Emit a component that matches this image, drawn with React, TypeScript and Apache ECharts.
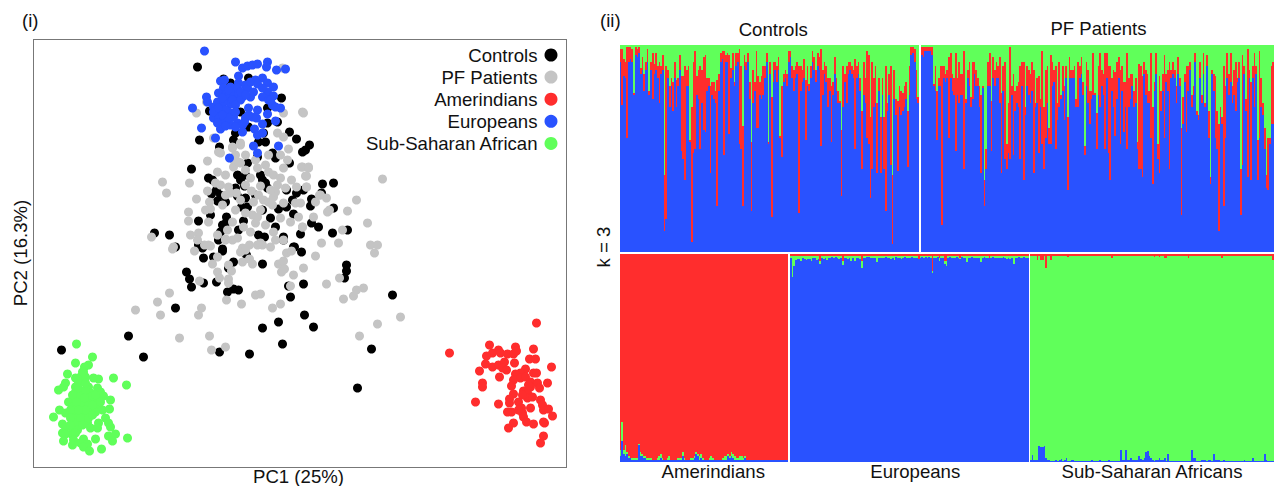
import React, { useEffect, useRef } from "react";
import * as echarts from "echarts";

const BLUE = "#2952FF", RED = "#FF2D2D", GREEN = "#60FF5A", BLACK = "#000000", GRAY = "#C4C4C4";
const FONT = "'Liberation Sans', Arial, sans-serif";
const FS = 18.6;

const controlsPC: number[][] = [[197,67],[281,98],[209,111],[199,140],[289,132],[296,139],[219,147],[191,169],[272,153],[289,163],[235,133],[248,78],[223,79],[230,83],[267,108],[240,112],[277,122],[267,123],[248,127],[263,133],[233,140],[257,157],[247,163],[309,145],[305,150],[302,152],[265,142],[258,142],[275,158],[322,184],[333,183],[208,178],[212,180],[237,175],[240,180],[262,180],[265,183],[235,188],[211,194],[296,193],[303,190],[267,188],[220,195],[217,201],[225,202],[245,198],[247,207],[241,207],[311,199],[310,206],[321,193],[333,208],[210,215],[198,221],[226,217],[262,210],[278,209],[286,207],[293,214],[311,223],[318,227],[332,233],[347,230],[154,233],[169,235],[222,225],[220,232],[243,221],[238,230],[258,235],[264,237],[270,218],[275,227],[283,237],[175,247],[198,245],[202,248],[222,249],[293,247],[203,258],[218,240],[222,251],[213,257],[233,262],[228,268],[246,255],[262,264],[283,240],[294,247],[301,252],[346,265],[346,271],[344,278],[186,272],[189,279],[191,287],[203,283],[216,282],[227,292],[233,289],[238,290],[303,284],[290,297],[288,286],[392,295],[175,308],[278,322],[304,315],[262,328],[313,327],[282,344],[371,349],[219,352],[249,354],[143,357],[128,336],[357,388],[61,350],[216,190],[244,186],[237,196],[245,175],[260,175],[286,190],[255,195],[292,200],[226,222],[300,234]];
const patientsPC: number[][] = [[196,113],[206,102],[282,68],[283,113],[302,112],[277,133],[213,138],[283,137],[288,149],[220,153],[232,148],[240,145],[207,161],[162,182],[166,193],[189,183],[196,199],[303,113],[382,179],[356,200],[347,211],[367,223],[327,212],[320,195],[326,198],[305,176],[308,168],[302,167],[306,187],[313,217],[342,230],[315,202],[302,227],[188,212],[188,221],[207,191],[209,202],[205,210],[210,209],[208,222],[217,172],[225,175],[215,183],[220,185],[228,187],[230,193],[236,193],[233,167],[240,163],[245,170],[233,160],[238,162],[250,178],[251,191],[260,186],[253,202],[268,172],[265,165],[273,175],[277,185],[285,188],[263,200],[268,202],[273,197],[275,192],[272,205],[260,210],[257,217],[252,215],[283,203],[295,203],[300,203],[283,168],[287,160],[301,167],[308,167],[306,176],[291,180],[296,187],[306,187],[319,195],[329,210],[298,217],[290,222],[302,227],[321,243],[338,243],[370,245],[377,245],[151,237],[190,235],[198,233],[197,240],[173,247],[208,245],[217,235],[225,239],[227,230],[232,222],[237,238],[243,227],[255,223],[273,232],[283,240],[270,247],[249,245],[242,248],[257,245],[218,152],[240,143],[232,147],[257,168],[172,249],[194,251],[204,245],[210,246],[225,240],[240,252],[245,250],[260,243],[217,257],[212,264],[228,265],[231,271],[217,272],[219,278],[199,281],[228,279],[228,283],[242,262],[249,259],[252,264],[278,264],[283,261],[286,253],[291,251],[315,256],[303,268],[284,269],[281,272],[293,275],[290,286],[326,284],[339,278],[363,288],[356,290],[353,296],[343,299],[374,253],[255,295],[260,294],[226,300],[241,304],[280,304],[272,308],[169,293],[157,302],[135,310],[160,315],[201,308],[198,315],[179,338],[209,336],[211,350],[225,347],[359,336],[377,324],[400,317],[245,185],[225,195],[240,200],[280,178],[270,190],[258,195],[245,213],[235,210],[265,225],[280,218],[235,155],[255,160],[245,155],[268,155],[280,155],[222,205],[232,240],[250,232],[262,245],[275,240]];
const amerindiansPC: number[][] = [[536,323],[449,353],[489,345],[515,347],[533,349],[498,350],[492,353],[486,356],[500,353],[507,354],[513,354],[516,351],[529,359],[535,359],[485,364],[492,367],[498,365],[504,362],[502,368],[506,370],[514,363],[551,367],[479,371],[499,377],[525,369],[520,373],[515,374],[513,380],[520,378],[533,373],[536,373],[530,382],[482,383],[482,387],[511,386],[547,383],[537,383],[539,388],[530,387],[523,391],[527,393],[513,394],[527,398],[532,397],[475,402],[498,404],[509,399],[509,403],[518,402],[540,400],[542,405],[521,408],[530,408],[543,410],[548,409],[552,416],[511,412],[507,412],[522,413],[523,417],[526,422],[533,424],[543,422],[544,423],[513,423],[508,428],[543,436],[540,443],[525,377],[528,385],[522,395],[518,410]];
const europeansPC: number[][] = [[204,51],[235,62],[242,68],[247,66],[252,65],[257,64],[267,62],[266,67],[276,70],[285,69],[238,76],[220,81],[224,80],[255,80],[262,78],[267,83],[273,87],[245,85],[247,88],[238,83],[230,87],[223,88],[218,93],[227,97],[235,95],[242,97],[250,97],[253,92],[267,92],[262,97],[273,96],[268,100],[206,97],[207,102],[213,107],[217,102],[222,107],[230,104],[220,113],[228,112],[192,108],[213,118],[218,118],[222,122],[220,129],[201,128],[215,138],[230,125],[237,123],[242,125],[242,132],[248,108],[257,110],[245,118],[252,117],[267,114],[272,105],[280,108],[275,107],[275,121],[262,124],[254,129],[257,135],[262,133],[253,146],[257,153],[278,146],[229,158],[217,123],[233,117],[240,100],[237,88],[250,82],[230,93],[213,112],[223,102],[225,95],[232,100],[222,98],[228,90],[235,105],[240,92],[245,95],[225,110],[218,108],[228,118],[235,112],[222,115],[256,118],[248,115],[244,122],[235,127],[225,126],[257,84],[262,88],[270,100]];
const africansPC: number[][] = [[76,344],[92,357],[75,363],[88,365],[84,367],[83,372],[67,374],[113,378],[126,385],[98,379],[93,378],[80,377],[85,377],[78,382],[65,383],[63,387],[58,390],[75,387],[88,387],[97,388],[100,392],[75,392],[83,393],[90,393],[103,396],[110,400],[68,402],[75,400],[82,400],[90,400],[98,400],[77,407],[83,407],[90,407],[97,405],[102,410],[109,409],[59,410],[65,413],[73,412],[80,413],[87,412],[95,412],[53,417],[77,418],[83,417],[105,418],[108,423],[62,424],[65,427],[75,423],[87,423],[90,428],[98,423],[97,428],[110,427],[72,430],[77,430],[62,433],[65,434],[72,435],[75,433],[108,436],[115,434],[127,438],[63,441],[73,440],[83,439],[95,439],[112,441],[72,445],[80,443],[87,444],[83,447],[101,449],[89,451],[80,403],[88,403],[72,407],[80,395],[72,395],[78,388],[85,390],[92,396],[70,410],[76,402],[84,398],[92,405],[80,418],[70,418],[88,418],[95,395],[100,402],[85,410],[78,410],[92,415],[82,425],[70,425],[85,383],[75,378],[82,372]];

const ctrlBlue = [92,71,85,84,55,92,93,92,76,95,94,96,86,88,78,88,92,76,88,74,86,88,84,72,86,88,10,16,84,70,80,68,84,70,80,88,49,45,35,80,80,53,5,48,50,76,74,50,72,59,58,78,80,38,76,74,72,22,78,92,93,47,92,92,57,84,88,80,90,92,52,50,22,90,88,92,74,20,72,78,60,60,76,74,76,84,92,52,86,17,82,88,82,88,55,46,82,84,80,92,94,84,78,84,86,19,78,82,84,54,80,78,84,92,88,82,90,88,51,76,86,82,70,78,53,76,86,78,72,72,27,70,82,72,86,88,86,84,50,84,86,78,40,76,72,55,52,26,40,70,72,38,78,38,76,40,20,68,76,42,4,74,66,39,70,66,68,70,74,41,76,95,96,92,74,72];
const ctrlRed = [98,98,93,92,99,99,99,98,77,99,98,99,89,94,86,92,98,78,92,96,91,96,90,92,90,95,37,90,88,80,84,82,92,83,84,95,85,85,90,88,90,54,70,92,97,85,88,90,88,94,95,84,84,80,82,82,78,83,86,96,97,97,95,96,95,89,96,82,96,96,98,90,61,95,92,96,82,53,88,82,97,85,82,85,90,90,96,53,92,75,92,92,90,94,56,80,86,88,86,97,97,90,88,90,92,90,90,88,93,83,90,81,90,97,94,88,96,94,98,88,92,90,84,84,80,82,94,84,78,73,59,90,86,90,92,92,90,88,93,90,92,84,68,92,84,97,95,65,92,84,90,72,84,65,84,65,90,72,86,90,37,88,74,73,80,78,77,80,82,68,90,99,99,98,88,75];
const pfBlue = [95,94,97,97,97,97,95,80,78,54,80,80,13,84,82,84,55,84,78,76,49,76,72,76,76,40,72,84,80,70,74,86,80,80,70,38,79,22,40,80,80,49,84,80,84,84,72,38,78,45,40,48,45,76,47,68,72,70,45,80,35,66,80,76,72,78,38,70,72,48,70,52,40,55,72,52,52,80,82,50,64,70,74,78,64,84,30,84,84,84,84,70,70,84,86,76,47,80,72,62,74,76,76,50,76,70,80,76,50,84,48,35,78,70,56,74,84,52,78,58,70,50,70,74,80,70,72,50,40,40,36,86,76,72,72,55,33,78,86,45,38,68,78,55,82,78,40,84,86,84,72,86,80,18,62,82,58,78,88,70,76,92,66,64,84,72,86,70,90,55,33,86,78,55,50,10,65,62,22,55,84,76,82,72,76,68,82,84,18,42,86,68,36,84,35,84,70,86,35,55,70,66,50,31,30,52,62,62];
const pfRed = [99,99,99,99,99,99,99,81,90,78,84,90,90,90,86,88,94,96,86,84,96,84,92,86,86,97,74,88,92,75,92,92,88,84,80,76,80,35,50,92,96,73,94,88,92,90,94,77,90,92,52,72,99,80,86,78,80,82,90,92,92,70,90,88,86,92,88,72,84,85,74,97,70,88,90,60,95,92,88,90,72,92,76,90,80,90,65,94,88,88,90,74,92,90,94,82,51,92,88,78,78,96,77,67,90,96,88,86,96,96,90,90,84,88,87,92,94,88,90,82,82,96,84,86,86,78,84,53,91,90,85,92,88,86,78,96,70,82,96,52,85,78,86,95,86,88,92,88,92,88,80,94,84,60,75,86,90,90,92,76,80,96,68,66,92,76,96,72,95,68,36,88,86,85,68,62,70,65,90,80,96,86,96,80,88,92,84,92,40,95,90,74,98,88,82,90,96,90,54,97,84,72,60,37,55,55,90,92];

const amerBlue = [3,10,4,3,4,2,2,1,1,1,1,8,3,3,2,2,1,1,1,1,1,1,1,1,2,1,1,1,1,1,1,1,1,1,1,1,1,3,1,1,1,1,1,1,2,4,3,1,2,1,1,1,1,1,1,1,1,1,1,1,1,1,1,1,3,2,3,2,1,1,1,1,1,1,2,1,1,1,1,1,1,1,1,1,1,1,1,1,1,1,1,1,1,1,1,1,1,1,1,1];
const amerGreen = [6,19,6,8,5,3,2,2,2,2,2,8.5,5,4,3,3,2,2,2,1,1,1,2,3,4,2,1,1,2,3,1,1,1,1,2,2,2,5,2,1,1,1,2,2,3,5,4,3,4,2,1,1,1,2,3,2,1,1,1,1,1,2,3,3,4,3,5,4,3,2,2,3,3,2,3,1,1,1,1,1,1,1,1,1,1,1,1,1,1,1,1,1,1,1,1,1,1,1,1,1];
const euroNotBlue = [2,11,6,3,2.5,2.5,3.5,2,2.5,3,2.5,2.5,3.5,2,2,3,2.5,5,2,2.5,2,3,2,2,1.5,2,1.5,2,2.5,2,5.5,2,2,2.5,2,3.5,2,3.5,2,2,2.5,6.5,2,2,1.5,1.5,2,2,2,2,4,2,2,2,2,1.5,2,2,2.5,2,3,1.5,2,2,2.5,2,1.5,2,2,2,1.5,2,2,2,2.5,2,1.5,2,1.5,2,1.5,2,9,2,2,1.5,3.5,2,2,5,6,2,1.5,2,2,2,1.5,2,2.5,1.5,2,2,4,2,2,1.5,2,2,2,2,4,2,1.5,2,2,2,2,1.5,2,2,2,2,2,1.5,2,2.5,2,2.5,2,5,2,2,1.5,2,2,1.5,2,2,2,1.5];
const euroRed = [1,1,1,1,1,1,1,1,1,1,1,1,1,1,1,1,1,3.5,1,1,1,1,1,1,1,1,1,1,1,1,3.5,1,1,1,1,1,1,1,1,1,1,3.5,1,1,1,1,1,1,1,1,1,1,1,1,1,1,1,1,1,1,1,1,1,1,1,1,1,1,1,1,1,1,1,1,2.5,1,1,1,1,1,1,1,8,1,1,1,2,1,1,3.5,3.5,1,1,1,1,1,1,1,2,1,1,1,1,1,1,1,1,1,1,1,1,1,1,1,1,2,1,1,1,1,1,1,1,1,1,1,1,1,1,1,1,1,1,1,1,1,1,1];
const afrBlue = [1,3.5,1,1,1,7.5,7,7,7.5,2,1,1,0.5,0.5,0.5,1,0.5,1,1.5,0.5,1,2,0.5,0.5,1,1,0.5,0.5,0.5,0.5,0.5,0.5,0.5,0.5,0.5,0.5,1,0.5,0.5,0.5,0.5,1,0.5,0.5,0.5,0.5,1,0.5,0.5,0.5,0.5,0.5,0.5,6,1,1,6,1,1,2,1,1,1,1,3,1.5,1,2,5,5.5,3,2,1,0.5,1,1,2,1,1,2,0.5,4,0.5,0.5,0.5,0.5,0.5,0.5,0.5,0.5,0.5,0.5,0.5,0.5,0.5,6,2,2,0.5,0.5,0.5,1,1,1,0.5,1,1,0.5,4,1,1,1,0.5,0.5,1,0.5,0.5,0.5,0.5,0.5,0.5,0.5,0.5,0.5,0.5,0.5,1,0.5,0.5,0.5,0.5,2,0.5,0.5,0.5,0.5,0.5,0.5,4,1,0.5,0.5,0.5,0.5];
const afrRed = [1,1,1,1,3,1,3,3,1,6.5,1,1,3,1,1,1,1,1,1,1,1,1,1.5,1,1,1,1,1,1,1,1,1,1,1,1,1,1,1,1,1,1,1,1,1,1,1,1,1,2,1,1,1,1,1,1,1,1,1,1,1,1,1,1,1,1,1,1,1,1,1,1,1,1,1.5,1,1,1.5,1,1,2,2,1,1,1,1,1,1,1,1,1,1,1,1,2,1,1,1,1,1,1,1,1,1,1,1,1,1,1,1,1,1,1,1,2,1,1,1,1,1,1,1,1,1,1,1,1,1,1,1,1,1,1,1,1,1,1,1,1,1,1,1,1,1,3];

const legendNames = ["Controls", "PF Patients", "Amerindians", "Europeans", "Sub-Saharan African"];
const pcSets = [controlsPC, patientsPC, amerindiansPC, europeansPC, africansPC];
const legendColors = [BLACK, GRAY, RED, BLUE, GREEN];

function panel(i: number, name: string, nameGap: number, shift: number, pos: "top" | "bottom", n: number, stacks: { name: string; color: string; data: number[] }[]) {
  return {
    xAxis: {
      type: "category", gridIndex: i, position: pos, data: Array.from({ length: n }, (_, k) => k),
      name, nameLocation: "middle", nameGap,
      nameTextStyle: { fontFamily: FONT, fontSize: FS, color: "#111", padding: [0, 0, 0, shift] },
      axisLine: { show: false }, axisTick: { show: false }, axisLabel: { show: false }, splitLine: { show: false },
    },
    yAxis: { type: "value", gridIndex: i, min: 0, max: 100, show: false },
    series: stacks.map((s) => ({
      type: "bar", name: s.name, xAxisIndex: i, yAxisIndex: i, stack: "p" + i, data: s.data,
      barWidth: "100%", barCategoryGap: 0, silent: true,
      itemStyle: { color: s.color },
    })),
  };
}
const diff = (a: number[], b: number[]) => a.map((v, i) => +(v - b[i]).toFixed(2));

export default function App() {
  const ref = useRef<HTMLDivElement>(null);
  useEffect(() => {
    const chart = echarts.init(ref.current!, undefined, { renderer: "svg" });
    const panels = [
      panel(1, "Controls", 6, 8, "top", ctrlBlue.length, [
        { name: "Blue", color: BLUE, data: ctrlBlue },
        { name: "Red", color: RED, data: diff(ctrlRed, ctrlBlue) },
        { name: "Green", color: GREEN, data: ctrlRed.map((v) => 100 - v) },
      ]),
      panel(2, "PF Patients", 7, 2, "top", pfBlue.length, [
        { name: "Blue", color: BLUE, data: pfBlue },
        { name: "Red", color: RED, data: diff(pfRed, pfBlue) },
        { name: "Green", color: GREEN, data: pfRed.map((v) => 100 - v) },
      ]),
      panel(3, "Amerindians", 0, 19, "bottom", amerBlue.length, [
        { name: "Blue", color: BLUE, data: amerBlue },
        { name: "Green", color: GREEN, data: diff(amerGreen, amerBlue).map((v) => Math.max(v, 0)) },
        { name: "Red", color: RED, data: amerGreen.map((v) => 100 - v) },
      ]),
      panel(4, "Europeans", 0, 12, "bottom", euroRed.length, [
        { name: "Blue", color: BLUE, data: euroNotBlue.map((v) => 100 - v) },
        { name: "Green", color: GREEN, data: diff(euroNotBlue, euroRed).map((v) => Math.max(v, 0)) },
        { name: "Red", color: RED, data: euroRed },
      ]),
      panel(5, "Sub-Saharan Africans", 0, 0, "bottom", afrBlue.length, [
        { name: "Blue", color: BLUE, data: afrBlue },
        { name: "Green", color: GREEN, data: afrRed.map((v, k) => 100 - v - afrBlue[k]) },
        { name: "Red", color: RED, data: afrRed },
      ]),
    ];
    chart.setOption({
      animation: false,
      backgroundColor: "#fff",
      textStyle: { fontFamily: FONT },
      grid: [
        { left: 33.5, top: 39, width: 533, height: 428, show: true, borderColor: "#777", borderWidth: 1, backgroundColor: "transparent", outerBoundsMode: "none" },
        { left: 619.5, top: 45, width: 299.5, height: 207, outerBoundsMode: "none" },
        { left: 921, top: 45, width: 353, height: 207, outerBoundsMode: "none" },
        { left: 619.5, top: 254, width: 168.5, height: 208, outerBoundsMode: "none" },
        { left: 790, top: 254, width: 238.5, height: 208, outerBoundsMode: "none" },
        { left: 1030, top: 254, width: 244, height: 208, outerBoundsMode: "none" },
      ],
      xAxis: [
        {
          type: "value", gridIndex: 0, min: 33, max: 566, name: "PC1 (25%)", nameLocation: "middle", nameGap: 0,
          nameTextStyle: { fontFamily: FONT, fontSize: FS, color: "#111", padding: [0, 3, 0, 0] },
          axisLine: { show: false }, axisTick: { show: false }, axisLabel: { show: false }, splitLine: { show: false },
        },
        ...panels.map((p) => p.xAxis),
      ],
      yAxis: [
        {
          type: "value", gridIndex: 0, min: 39, max: 467, inverse: true, name: "PC2 (16.3%)", nameLocation: "middle", nameGap: 4,
          nameTextStyle: { fontFamily: FONT, fontSize: FS, color: "#111" },
          axisLine: { show: false }, axisTick: { show: false }, axisLabel: { show: false }, splitLine: { show: false },
        },
        ...panels.map((p) => p.yAxis),
      ],
      legend: {
        data: legendNames, orient: "vertical", align: "right", right: 711.5, top: 40.5, itemGap: 3.1,
        itemWidth: 13, itemHeight: 18, icon: "circle", selectedMode: false,
        textStyle: { fontFamily: FONT, fontSize: FS, color: "#111", padding: [0, 2, 0, 0] },
      },
      series: [
        ...legendNames.map((name, i) => ({
          type: "scatter", name, xAxisIndex: 0, yAxisIndex: 0, data: pcSets[i], symbolSize: 9, silent: true,
          itemStyle: { color: legendColors[i], opacity: 1 },
        })),
        ...panels.flatMap((p) => p.series),
      ],
      graphic: [
        { type: "text", x: 22, y: 11, style: { text: "(i)", font: `${FS}px ${FONT}`, fill: "#111" } },
        { type: "text", x: 600, y: 11, style: { text: "(ii)", font: `${FS}px ${FONT}`, fill: "#111" } },
        { type: "text", x: 603, y: 247, rotation: Math.PI / 2, style: { text: "k = 3", font: `${FS}px ${FONT}`, fill: "#111", align: "center", verticalAlign: "middle" } },
      ],
    });
    return () => chart.dispose();
  }, []);
  return (
    <>
      <style>{`path:not([d*="C"]):not([d*="A"]):not([d*="a"]):not([d*="c"]) { shape-rendering: crispEdges; }`}</style>
      <div ref={ref} style={{ position: "fixed", left: 0, top: 0, width: 1274, height: 486 }} />
    </>
  );
}
